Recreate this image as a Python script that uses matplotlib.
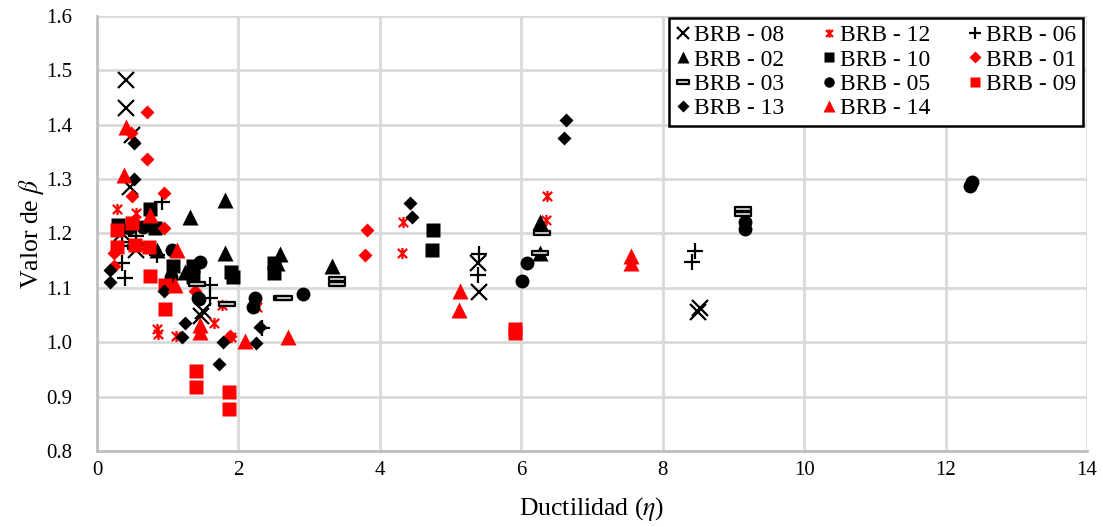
import matplotlib
matplotlib.use("Agg")
import matplotlib.pyplot as plt
from matplotlib.path import Path

plt.rcParams["font.family"] = ["Liberation Serif", "DejaVu Serif"]
plt.rcParams["mathtext.fontset"] = "stix"

# ductility (x) and beta (y) for each specimen
brb08_x = [0.41, 0.41, 0.50, 0.47, 0.35, 0.55, 1.47, 1.50, 5.39, 5.40, 8.50, 8.52]
brb08_y = [1.482, 1.430, 1.381, 1.285, 1.200, 1.170, 1.049, 1.058, 1.145, 1.093, 1.055, 1.063]

brb12_x = [0.28, 0.55, 0.85, 0.86, 1.12, 1.65, 1.77, 1.90, 2.26, 4.33, 4.31, 6.36, 6.35]
brb12_y = [1.245, 1.237, 1.025, 1.016, 1.012, 1.035, 1.068, 1.010, 1.064, 1.221, 1.165, 1.268, 1.224]

brb06_x = [0.92, 0.35, 0.40, 0.35, 0.55, 0.85, 1.60, 1.60, 2.33, 5.40, 5.39, 8.46, 8.42]
brb06_y = [1.257, 1.145, 1.119, 1.200, 1.195, 1.160, 1.105, 1.081, 1.027, 1.162, 1.123, 1.167, 1.147]

brb02_x = [1.31, 1.81, 1.81, 0.85, 1.25, 2.59, 2.55, 3.32, 6.27, 6.27]
brb02_y = [1.230, 1.261, 1.165, 1.170, 1.130, 1.163, 1.145, 1.140, 1.221, 1.164]

brb10_x = [0.30, 0.75, 0.82, 1.08, 1.35, 1.35, 1.90, 1.92, 2.50, 2.50, 4.75, 4.73]
brb10_y = [1.215, 1.245, 1.210, 1.140, 1.140, 1.120, 1.130, 1.120, 1.145, 1.127, 1.207, 1.170]

brb01_x = [0.71, 0.71, 0.48, 0.50, 0.95, 0.95, 0.24, 0.24, 0.55, 1.39, 1.88, 3.82, 3.79]
brb01_y = [1.423, 1.337, 1.385, 1.269, 1.274, 1.210, 1.164, 1.140, 1.220, 1.095, 1.012, 1.206, 1.160]

brb03_x = [0.35, 0.55, 1.41, 1.84, 2.62, 2.65, 3.39, 3.39, 6.29, 6.27, 9.14, 9.14]
brb03_y = [1.180, 1.175, 1.108, 1.071, 1.081, 1.082, 1.117, 1.108, 1.200, 1.165, 1.245, 1.235]

brb05_x = [0.45, 0.65, 1.05, 1.06, 1.46, 1.43, 1.44, 2.23, 2.21, 2.91, 6.08, 6.01, 9.16, 9.16, 12.35, 12.38]
brb05_y = [1.210, 1.211, 1.120, 1.169, 1.147, 1.081, 1.080, 1.081, 1.064, 1.088, 1.145, 1.112, 1.221, 1.208, 1.287, 1.294]

brb09_x = [0.28, 0.50, 0.54, 0.74, 0.28, 0.75, 0.96, 0.96, 1.40, 1.40, 1.87, 1.87, 5.91, 5.91]
brb09_y = [1.206, 1.219, 1.178, 1.175, 1.175, 1.121, 1.105, 1.062, 0.948, 0.917, 0.909, 0.878, 1.025, 1.017]

brb13_x = [0.52, 0.52, 0.18, 0.18, 0.95, 1.24, 1.20, 1.78, 1.73, 2.25, 2.31, 4.43, 4.46, 6.63, 6.60]
brb13_y = [1.366, 1.300, 1.132, 1.110, 1.095, 1.036, 1.009, 1.001, 0.961, 0.998, 1.029, 1.256, 1.230, 1.408, 1.375]

brb14_x = [0.41, 0.38, 0.75, 1.13, 1.10, 1.46, 1.46, 2.09, 2.70, 5.13, 5.12, 7.55, 7.55]
brb14_y = [1.396, 1.307, 1.234, 1.169, 1.105, 1.018, 1.031, 1.003, 1.009, 1.095, 1.059, 1.158, 1.145]

# excel-style star: an x with a vertical stroke
star = Path(
    [(-1, -1), (1, 1), (-1, 1), (1, -1), (0, -1.2), (0, 1.2)],
    [Path.MOVETO, Path.LINETO, Path.MOVETO, Path.LINETO, Path.MOVETO, Path.LINETO],
)
dash = Path([(-1, -0.3), (1, -0.3), (1, 0.3), (-1, 0.3), (-1, -0.3)],
            [Path.MOVETO, Path.LINETO, Path.LINETO, Path.LINETO, Path.CLOSEPOLY])

series = [
    ("BRB - 08", brb08_x, brb08_y, dict(marker="x", ms=11, mew=1.6, color="black")),
    ("BRB - 12", brb12_x, brb12_y, dict(marker=star, ms=8, mew=1.6, color="red", mfc="none")),
    ("BRB - 06", brb06_x, brb06_y, dict(marker="+", ms=12, mew=1.6, color="black")),
    ("BRB - 02", brb02_x, brb02_y, dict(marker="^", ms=11, color="black", mec="none")),
    ("BRB - 10", brb10_x, brb10_y, dict(marker="s", ms=10, color="black", mec="none")),
    ("BRB - 01", brb01_x, brb01_y, dict(marker="D", ms=7.5, color="red", mec="none")),
    ("BRB - 03", brb03_x, brb03_y, dict(marker=dash, ms=11, color="black", mfc="#d0d0d0", mew=1.6)),
    ("BRB - 05", brb05_x, brb05_y, dict(marker="o", ms=10, color="black", mec="none")),
    ("BRB - 09", brb09_x, brb09_y, dict(marker="s", ms=10, color="red", mec="none")),
    ("BRB - 13", brb13_x, brb13_y, dict(marker="D", ms=7.5, color="black", mec="none")),
    ("BRB - 14", brb14_x, brb14_y, dict(marker="^", ms=11, color="red", mec="none")),
]

fig = plt.figure(figsize=(11.03, 5.27), dpi=100)
ax = fig.add_axes([0.088, 0.144, 0.8975, 0.826])

handles = []
for name, xs, ys, style in series:
    line, = ax.plot(xs, ys, linestyle="none", label=name, **style)
    handles.append(line)

ax.set_xlim(0, 14)
ax.set_ylim(0.8, 1.6)
ax.set_xticks(range(0, 15, 2))
ax.set_yticks([0.8, 0.9, 1.0, 1.1, 1.2, 1.3, 1.4, 1.5, 1.6])
ax.set_yticklabels([f"{v:.1f}" for v in ax.get_yticks()])
ax.grid(True, color="#d9d9d9", linewidth=2)
ax.set_axisbelow(True)
ax.tick_params(length=0, labelsize=15)
ax.tick_params(axis="y", pad=18)
ax.tick_params(axis="x", pad=7)
for side in ["top", "right"]:
    ax.spines[side].set_visible(False)
for side in ["left", "bottom"]:
    ax.spines[side].set_color("#bfbfbf")
    ax.spines[side].set_linewidth(2)

ax.set_xlabel(r"Ductilidad ($\eta$)", fontsize=18.5, labelpad=11)
ax.set_ylabel(r"Valor de $\beta$", fontsize=18.5, labelpad=0)

# matplotlib fills the legend column by column, the reference reads row by row
order = [0, 3, 6, 9, 1, 4, 7, 10, 2, 5, 8]
leg = ax.legend([handles[i] for i in order], [series[i][0] for i in order],
                ncol=3, loc="upper right", bbox_to_anchor=(0.996, 0.996), borderaxespad=0,
                fontsize=17, frameon=True, fancybox=False, edgecolor="black", framealpha=1,
                handlelength=0.6, handletextpad=0.15, columnspacing=1.6,
                labelspacing=0.12, borderpad=0.3, numpoints=1)
leg.get_frame().set_linewidth(1.8)
for h in leg.legend_handles:
    h.set_markersize(h.get_markersize() * 0.75)

fig.savefig("out.png", dpi=100)
